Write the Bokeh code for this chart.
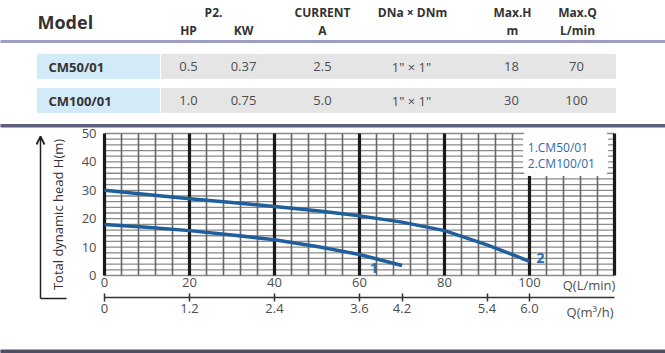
from math import pi
from bokeh.plotting import figure
from bokeh.models import (Range1d, LinearAxis, FixedTicker, Label, Arrow, OpenHead,
                          BoxAnnotation)
from bokeh.embed import file_html
from bokeh.resources import INLINE
from bokeh.core.properties import value

FONT = "Open Sans"

# ---------------- table data ----------------
models = ["CM50/01", "CM100/01"]
hp = ["0.5", "1.0"]
kw = ["0.37", "0.75"]
current = ["2.5", "5.0"]
dn = ['1" \u00d7 1"', '1" \u00d7 1"']
max_h = ["18", "30"]
max_q = ["70", "100"]
header_top = ["P2.", "CURRENT", "DNa \u00d7 DNm", "Max.H", "Max.Q"]
header_bottom = ["HP", "KW", "A", "m", "L/min"]

# ---------------- curve data ----------------
q1 = [0, 10, 20, 30, 40, 50, 60, 70]
h1 = [18, 17, 15.8, 14.3, 12.6, 10.2, 7.4, 3.5]
q2 = [0, 10, 20, 30, 40, 50, 60, 70, 80, 90, 100]
h2 = [30, 28.5, 27, 25.7, 24.3, 22.8, 21, 18.8, 15.8, 10.8, 5]

lpm_ticks = [0, 20, 40, 60, 80, 100]
m3h_labels = ["0", "1.2", "2.4", "3.6", "4.2", "5.4", "6.0"]
h_ticks = [0, 10, 20, 30, 40, 50]
legend_labels = ["1.CM50/01", "2.CM100/01"]
curve_ids = ["1", "2"]

Q_MAX, H_MAX = 120, 50

BLUE = "#1f5f9c"
TXT_BLUE = "#2b6aac"
GREY_TXT = "#4d4d4d"
DARK = "#333333"

# chart area placement inside the 665x353 canvas (pixels)
W, H = 665, 353
PL, PR, PT, PB = 104, 614, 133, 275
sx = (PR - PL) / Q_MAX
sy = (PB - PT) / H_MAX

p = figure(width=W, height=H,
           x_range=Range1d(-PL / sx, Q_MAX + (W - PR) / sx),
           y_range=Range1d(-(H - PB) / sy, H_MAX + PT / sy),
           toolbar_location=None, output_backend="svg", min_border=0,
           x_axis_location=None, y_axis_location=None, outline_line_color=None)
p.grid.visible = False
p.extra_x_ranges = {"px": Range1d(0, W)}
p.extra_y_ranges = {"px": Range1d(H, 0)}
PX = dict(x_range_name="px", y_range_name="px")

# ================= table =================
p.quad(left=[0], right=[W], top=[40], bottom=[42], color="#9e9ec2", **PX)
p.quad(left=[0], right=[W], top=[124], bottom=[126.5], color="#5e5e7e", **PX)
p.quad(left=[0], right=[W], top=[349.5], bottom=[352], color="#4e4e64", **PX)

row_y = [66, 100]
p.quad(left=[37] * 2, right=[159] * 2, top=[y - 12 for y in row_y],
       bottom=[y + 12 for y in row_y], color="#d3eaf8", **PX)
p.quad(left=[161] * 2, right=[615] * 2, top=[y - 12 for y in row_y],
       bottom=[y + 12 for y in row_y], color="#e5e5e5", **PX)

p.text(x=[37], y=[21], text=["Model"], text_font=value(FONT), text_font_style="bold",
       text_font_size="18px", text_color=DARK, text_baseline="middle", **PX)
top_x = [213, 322, 412, 512, 577]
bot_x = [188, 243, 322, 512, 577]
p.text(x=top_x, y=[12] * 5, text=header_top, text_font=value(FONT), text_font_style="bold",
       text_font_size="12px", text_color=DARK, text_align="center", text_baseline="middle", **PX)
p.text(x=bot_x, y=[30] * 5, text=header_bottom, text_font=value(FONT), text_font_style="bold",
       text_font_size="12px", text_color=DARK, text_align="center", text_baseline="middle", **PX)

p.text(x=[48] * 2, y=row_y, text=models, text_font=value(FONT), text_font_style="bold",
       text_font_size="13px", text_color=DARK, text_baseline="middle", **PX)
col_x = [188, 243, 322, 411, 511, 576]
for cx, vals in zip(col_x, [hp, kw, current, dn, max_h, max_q]):
    p.text(x=[cx] * 2, y=row_y, text=vals, text_font=value(FONT), text_font_size="13px",
           text_color=GREY_TXT, text_align="center", text_baseline="middle", **PX)

# ================= chart grid =================
hy = list(range(0, H_MAX + 1, 2))
p.segment(x0=[0] * len(hy), y0=hy, x1=[Q_MAX] * len(hy), y1=hy,
          line_color="#8a8a8a", line_width=1.3)
vx = [x for x in range(0, Q_MAX + 1, 4) if x % 20]
p.segment(x0=vx, y0=[0] * len(vx), x1=vx, y1=[H_MAX] * len(vx),
          line_color="#666666", line_width=1.6)
tx = list(range(0, Q_MAX + 1, 20))
p.segment(x0=tx, y0=[0] * len(tx), x1=tx, y1=[H_MAX] * len(tx),
          line_color="#1a1a1a", line_width=3.2)

# ================= axes =================
ya = LinearAxis(fixed_location=0, ticker=FixedTicker(ticks=h_ticks),
                axis_line_color=None, major_tick_in=0, major_tick_out=0,
                minor_tick_in=0, minor_tick_out=0, major_label_standoff=8,
                major_label_text_font=FONT, major_label_text_font_size="13px",
                major_label_text_color=GREY_TXT)
p.add_layout(ya, "left")

xa = LinearAxis(fixed_location=0, ticker=FixedTicker(ticks=lpm_ticks),
                axis_line_color=None, major_tick_in=0, major_tick_out=0,
                minor_tick_in=0, minor_tick_out=0, major_label_standoff=2,
                major_label_text_font=FONT, major_label_text_font_size="13px",
                major_label_text_color=GREY_TXT)
p.add_layout(xa, "below")

m3h_pos = [float(v) * 1000.0 / 60.0 for v in m3h_labels]
xa2 = LinearAxis(fixed_location=-(296.5 - PB) / sy, bounds=(0, Q_MAX),
                 ticker=FixedTicker(ticks=m3h_pos),
                 major_label_overrides={pos: lab for pos, lab in zip(m3h_pos, m3h_labels)},
                 axis_line_color="#333333", axis_line_width=1.5,
                 major_tick_in=4, major_tick_out=4, major_tick_line_color="#333333",
                 major_tick_line_width=1.5, minor_tick_in=0, minor_tick_out=0,
                 major_label_standoff=3, major_label_text_font=FONT,
                 major_label_text_font_size="13px", major_label_text_color=GREY_TXT)
p.add_layout(xa2, "below")

# ================= curves =================
p.line(q1, h1, line_color=BLUE, line_width=3.5)
p.line(q2, h2, line_color=BLUE, line_width=3.5)

p.add_layout(Label(x=63.4, y=2.6, text=curve_ids[0], text_font=FONT, text_font_size="14px",
                   text_font_style="bold", text_color=TXT_BLUE, text_align="center",
                   text_baseline="middle"))
p.add_layout(Label(x=102.6, y=6.3, text=curve_ids[1], text_font=FONT, text_font_size="14px",
                   text_font_style="bold", text_color=TXT_BLUE, text_align="center",
                   text_baseline="middle"))

# legend box
p.add_layout(BoxAnnotation(left=98.5, right=118.5, bottom=35, top=51, fill_color="white",
                           fill_alpha=1, line_color=None, border_radius=6))
for yy, lab in zip([45, 39.4], legend_labels):
    p.add_layout(Label(x=99.6, y=yy, text=lab, text_font=FONT, text_font_size="12px",
                       text_color=TXT_BLUE, text_baseline="middle"))

# axis titles
p.text(x=[Q_MAX + 0.2], y=[-3.2], text=["Q(L/min)"], text_font=value(FONT),
       text_font_size="13px", text_color=GREY_TXT, text_align="right", text_baseline="middle")
p.text(x=[Q_MAX - 0.2], y=[-12.7], text=["Q(m\u00b3/h)"], text_font=value(FONT),
       text_font_size="13px", text_color=GREY_TXT, text_align="right", text_baseline="middle")
p.text(x=[57.5], y=[214], text=["Total dynamic head H(m)"], angle=pi / 2,
       text_font=value(FONT), text_font_size="13px", text_color=DARK,
       text_align="center", text_baseline="middle", **PX)

# axis arrow
p.add_layout(Arrow(x_start=(40 - PL) / sx, y_start=-(298 - PB) / sy,
                   x_end=(40 - PL) / sx, y_end=H_MAX + (PT - 136) / sy,
                   end=OpenHead(size=8, line_width=1.8, line_color="#222222"),
                   line_width=1.5, line_color="#222222"))
p.segment(x0=[40], y0=[298], x1=[66], y1=[298], line_color="#222222", line_width=1.5, **PX)

open("out.html", "w").write(file_html(p, INLINE))
